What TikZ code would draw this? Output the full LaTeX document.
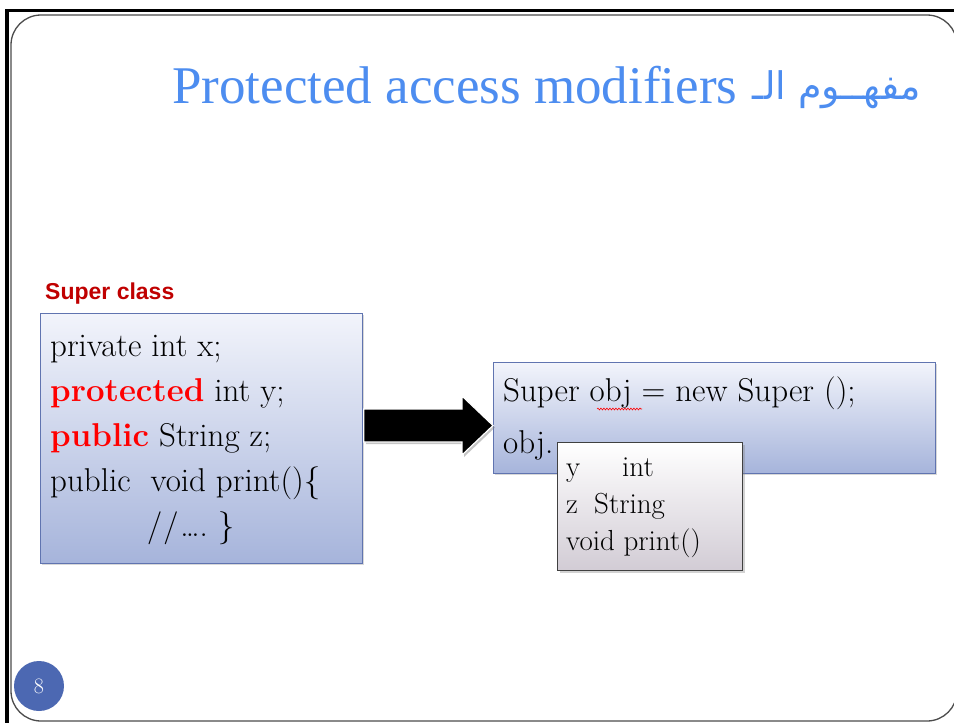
\documentclass[tikz,border=0pt]{standalone}
\usepackage{fontspec}
\newfontfamily\titlefont{Liberation Serif}
\newfontfamily\labelfont{Liberation Sans}
\newfontfamily\arabicfont[Script=Arabic]{DejaVu Sans}
\TeXXeTstate=1
\usetikzlibrary{shadows,calc,decorations.pathmorphing}

\definecolor{titleblue}{RGB}{77,141,240}
\definecolor{boxedge}{RGB}{96,116,176}
\definecolor{boxtop}{RGB}{242,244,251}
\definecolor{boxbottom}{RGB}{166,180,219}
\definecolor{popbottom}{RGB}{210,204,213}
\definecolor{labelred}{RGB}{192,0,0}
\definecolor{badge}{RGB}{76,104,178}
\newcommand\kwd[1]{\textcolor{red}{\bfseries #1}}

\begin{document}
\begin{tikzpicture}[x=1pt,y=-1pt,
  codebox/.style={draw=boxedge, line width=0.8pt, top color=boxtop,
    bottom color=boxbottom, anchor=north west, inner sep=0pt,
    drop shadow={opacity=0.3, shadow xshift=2pt, shadow yshift=-2pt}},
  popbox/.style={draw=black!75, line width=1pt, top color=white,
    bottom color=popbottom, anchor=north west, inner sep=0pt,
    drop shadow={opacity=0.35, shadow xshift=2pt, shadow yshift=-2pt}},
  codeline/.style={anchor=base west, inner sep=0pt, font=\fontsize{33}{40}\selectfont},
  popline/.style={anchor=base west, inner sep=0pt, font=\fontsize{29}{34}\selectfont},
  blockarrow/.style={fill=black, draw=white, line width=1.2pt,
    drop shadow={opacity=0.45, shadow xshift=2pt, shadow yshift=-2pt}}]

\useasboundingbox (0,0) rectangle (954,723);
\fill[white] (0,0) rectangle (954,723);

% slide frame
\draw[line width=3.5pt] (7,723) -- (7,10.5) -- (954,10.5);
\draw[draw=black!70, line width=1.3pt, rounded corners=30pt] (11,15) rectangle (957,721);

% title
\node[anchor=base west, inner sep=0pt, text=titleblue,
  font=\titlefont\fontsize{53}{60}\selectfont] (title) at (172,103) {Protected access modifiers};
\node[anchor=base east, inner sep=0pt, text=titleblue,
  font=\arabicfont\fontsize{38}{46}\selectfont] (titlear) at (921,99) {\beginR مفهــوم الـ\endR};

% super class
\node[anchor=base west, inner sep=0pt, text=labelred,
  font=\labelfont\bfseries\fontsize{23}{28}\selectfont] (suplabel) at (45,299) {Super class};
\node[codebox, minimum width=322pt, minimum height=250pt] (sup) at (40,313) {};
\node[codeline] (l1) at (50,356) {private int x;};
\node[codeline] (l2) at (50,401) {\kwd{protected} int y;};
\node[codeline] (l3) at (50,446) {\kwd{public} String z;};
\node[codeline] (l4) at (50,491) {public\ \ void print()\{};
\node[codeline] (l5) at (147,536) {/\kern1pt/\kern2pt\ldots.\ \}};

% object box
\node[codebox, minimum width=442pt, minimum height=111pt] (obj) at (493,362) {};
\node[codeline] (r1) at (503,401) {Super obj = new Super ();};
\node[codeline] (r2) at (503,453) {obj.};
\draw[red, line width=0.6pt, decorate,
  decoration={snake, amplitude=0.9pt, segment length=3pt}] (597,409) -- (642,409);

% block arrow from the class to the object
\coordinate (mid) at (0,425.5);
\coordinate (tail) at (sup.east |- mid);
\coordinate (tip) at (obj.west |- mid);
\path[blockarrow] ($(tail)+(1,-16.5)$) -- ($(tip)+(-31,-16.5)$) -- ($(tip)+(-31,-29.5)$)
  -- (tip) -- ($(tip)+(-31,29.5)$) -- ($(tip)+(-31,16.5)$) -- ($(tail)+(1,16.5)$) -- cycle;

% completion popup
\node[popbox, minimum width=185pt, minimum height=128pt] (popup) at (557,442) {};
\node[popline] (p1) at (566,476) {\makebox[56pt][l]{y}int};
\node[popline] (p2) at (566,513) {\makebox[28pt][l]{z}String};
\node[popline] (p3) at (566,550) {void print()};

% page number
\node[circle, fill=badge, minimum size=50pt, inner sep=0pt, text=white,
  font=\fontsize{22}{22}\selectfont] (pagenum) at (39,686) {8};
\end{tikzpicture}
\end{document}
